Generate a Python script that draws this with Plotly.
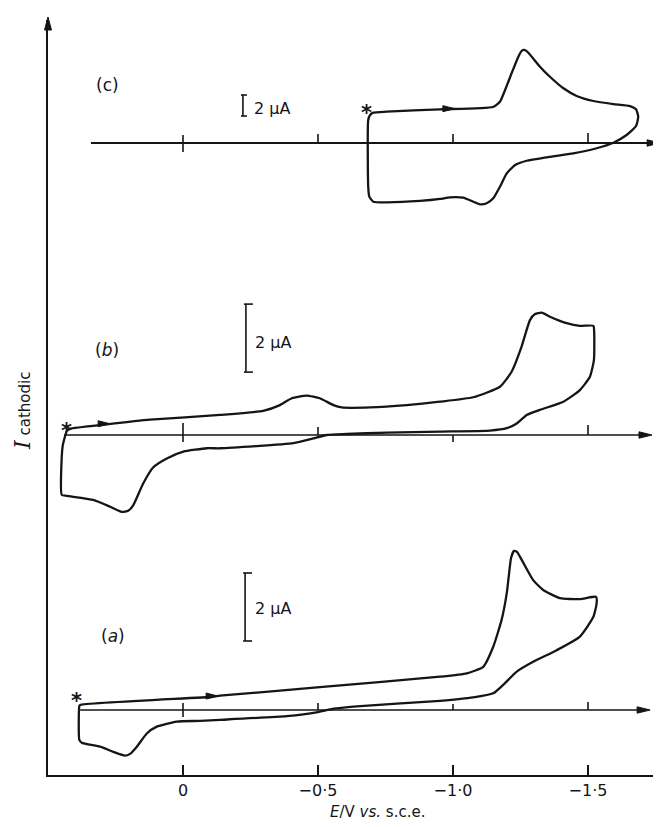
import plotly.graph_objects as go

# ---------------- data (E in V vs s.c.e., I in microamps) ----------------
# panel (c)
c_E = [-0.693, -0.705, -0.754, -0.952, -1.148, -1.174, -1.193, -1.217, -1.242, -1.254,
       -1.263, -1.275, -1.322, -1.359, -1.409, -1.458, -1.520, -1.594, -1.656, -1.678,
       -1.686, -1.678, -1.643, -1.594, -1.532, -1.446, -1.347, -1.273, -1.230, -1.199,
       -1.174, -1.149, -1.125, -1.100, -1.075, -1.038, -0.989, -0.952, -0.878, -0.754,
       -0.705, -0.690, -0.686, -0.686, -0.693]
c_I = [2.67, 2.89, 2.98, 3.21, 3.43, 3.93, 5.05, 6.64, 8.22, 8.76,
       8.86, 8.70, 7.27, 6.31, 5.21, 4.48, 4.00, 3.71, 3.52, 3.21,
       2.50, 1.62, 0.76, 0.03, -0.50, -0.98, -1.36, -1.69, -2.10, -2.89,
       -4.16, -5.27, -5.74, -5.84, -5.59, -5.21, -5.17, -5.33, -5.52, -5.65,
       -5.59, -5.11, -4.16, 2.19, 2.67]

# panel (b)
b_E = [0.430, 0.419, 0.283, 0.122, -0.137, -0.297, -0.359, -0.403, -0.458, -0.507,
       -0.557, -0.588, -0.693, -0.829, -0.952, -1.075, -1.174, -1.217, -1.254, -1.285,
       -1.304, -1.329, -1.359, -1.421, -1.470, -1.520, -1.523, -1.522, -1.507, -1.470,
       -1.409, -1.322, -1.273, -1.236, -1.199, -1.137, -0.952, -0.754, -0.606, -0.532,
       -0.483, -0.409, -0.137, -0.088, -0.001, 0.060, 0.110, 0.147, 0.184, 0.203,
       0.227, 0.270, 0.332, 0.431, 0.449, 0.446, 0.430]
b_I = [0.12, 0.18, 0.31, 0.45, 0.59, 0.71, 0.88, 1.08, 1.16, 1.08,
       0.88, 0.81, 0.81, 0.88, 0.98, 1.11, 1.42, 1.86, 2.60, 3.38,
       3.56, 3.60, 3.48, 3.29, 3.21, 3.21, 2.99, 2.21, 1.71, 1.32,
       0.98, 0.74, 0.59, 0.34, 0.20, 0.13, 0.10, 0.07, 0.03, 0.00,
       -0.10, -0.24, -0.39, -0.39, -0.49, -0.69, -0.95, -1.42, -2.06, -2.23,
       -2.26, -2.11, -1.91, -1.79, -1.76, -0.34, 0.12]

# panel (a)
a_E = [0.381, -0.111, -0.137, -0.507, -0.952, -1.051, -1.112, -1.149, -1.180, -1.199,
       -1.207, -1.215, -1.226, -1.237, -1.259, -1.297, -1.334, -1.396, -1.470, -1.530,
       -1.532, -1.520, -1.470, -1.384, -1.297, -1.236, -1.186, -1.149, -1.075, -0.952,
       -0.631, -0.544, -0.495, -0.384, -0.137, -0.063, 0.023, 0.097, 0.134, 0.171,
       0.196, 0.215, 0.258, 0.307, 0.375, 0.384, 0.384, 0.381]
a_I = [0.15, 0.39, 0.42, 0.67, 0.98, 1.08, 1.27, 1.86, 2.65, 3.43,
       3.97, 4.47, 4.68, 4.65, 4.35, 3.82, 3.53, 3.29, 3.26, 3.33,
       3.14, 2.74, 2.16, 1.76, 1.42, 1.13, 0.74, 0.49, 0.37, 0.27,
       0.10, 0.02, -0.07, -0.18, -0.29, -0.32, -0.34, -0.49, -0.69, -1.08,
       -1.29, -1.34, -1.23, -1.08, -0.96, -0.88, 0.12, 0.15]

tick_E = [0, -0.5, -1.0, -1.5]
tick_text = ["0", "\u22120\u00b75", "\u22121\u00b70", "\u22121\u00b75"]

panel_names = ["(a)", "(b)", "(c)"]
scale_bar_uA = 2.0

# per panel: baseline extent, arrow on sweep, start marker, scale bar, labels (data coords)
base_start = {"a": 0.381, "b": 0.440, "c": 0.341}
base_end = {"a": -1.730, "b": -1.737, "c": -1.767}
sweep_arrow = {"a": (-0.13, 0.41), "b": (0.27, 0.33), "c": (-1.007, 3.27)}
star_pos = {"a": (0.396, 0.37), "b": (0.432, 0.24), "c": (-0.681, 3.24)}
bar_pos = {"a": (-0.230, 2.03), "b": (-0.233, 1.85), "c": (-0.222, 2.57)}
bar_label = {"a": (-0.259, 3.00), "b": (-0.259, 2.71), "c": (-0.256, 3.33)}
name_pos = {"a": (0.260, 2.18), "b": (0.280, 2.50), "c": (0.281, 5.52)}
# baseline tick extents in pixels (down, up)
base_ticks = {
    "a": [(-7, 7), (0, 7), (0, 6), (0, 8)],
    "b": [(-7, 12), (0, 8), (-7, 0), (0, 10)],
    "c": [(-9, 8), (0, 9), (0, 9), (0, 10)],
}

# ---------------- layout geometry (page pixels; body has an 8px margin) ----------------
PAGE_W, PAGE_H = 661, 827
OFF = 8
W, H = PAGE_W - OFF, PAGE_H - OFF
# target page positions of the plotting box
BOX_L, BOX_R, BOX_T, BOX_B = 48, 661, 20, 775
ML, MR, MT, MB = BOX_L - OFF, (W + OFF) - BOX_R, BOX_T - OFF, (H + OFF) - BOX_B
PX_ZERO, PX_PER_V = 183, 270
x_left = (PX_ZERO - BOX_L) / PX_PER_V
x_right = (PX_ZERO - BOX_R) / PX_PER_V
panel_geom = {"a": (710, 34.0, "y"), "b": (435, 34.0, "y2"), "c": (143, 10.5, "y3")}


def yrange(base_px, s):
    return [(base_px - BOX_B) / s, (base_px - BOX_T) / s]


def paper_x(px):
    return (px - BOX_L) / (BOX_R - BOX_L)


def paper_y(py):
    return (BOX_B - py) / (BOX_B - BOX_T)


INK = "#151515"
FONT = "DejaVu Sans"

fig = go.Figure()
series = {"a": (a_E, a_I), "b": (b_E, b_I), "c": (c_E, c_I)}
shapes = []
annotations = []
arrow_path = "M0,0 L-13,3.2 L-13,-3.2 Z"

for key, name in zip(["a", "b", "c"], panel_names):
    base_px, s, yax = panel_geom[key]
    E, I = series[key]
    fig.add_trace(go.Scatter(x=E, y=I, yaxis=yax, mode="lines",
                             line=dict(color=INK, width=2.3, shape="spline", smoothing=0.5),
                             hoverinfo="skip", showlegend=False))
    yref = yax
    # baseline (zero current) with arrow
    shapes.append(dict(type="line", xref="x", yref=yref, x0=base_start[key], x1=base_end[key] + 0.03,
                       y0=0, y1=0, line=dict(color=INK, width=1.8 if key == "c" else 1.4)))
    shapes.append(dict(type="path", xref="x", yref=yref, xsizemode="pixel", ysizemode="pixel",
                       xanchor=base_end[key], yanchor=0, path=arrow_path,
                       fillcolor=INK, line=dict(color=INK, width=1)))
    for tE, (d0, d1) in zip(tick_E, base_ticks[key]):
        shapes.append(dict(type="line", xref="x", yref=yref, ysizemode="pixel", yanchor=0,
                           x0=tE, x1=tE, y0=d0, y1=d1, line=dict(color=INK, width=1.6)))
    # sweep direction arrow
    ax_, ay_ = sweep_arrow[key]
    shapes.append(dict(type="path", xref="x", yref=yref, xsizemode="pixel", ysizemode="pixel",
                       xanchor=ax_, yanchor=ay_, path="M0,0 L-12,3 L-12,-3 Z",
                       fillcolor=INK, line=dict(color=INK, width=1)))
    # scale bar
    bx, by = bar_pos[key]
    shapes.append(dict(type="line", xref="x", yref=yref, x0=bx, x1=bx, y0=by, y1=by + scale_bar_uA,
                       line=dict(color=INK, width=1.6)))
    for yy in (by, by + scale_bar_uA):
        shapes.append(dict(type="line", xref="x", yref=yref, xsizemode="pixel", xanchor=bx,
                           x0=-2, x1=7 if key != "c" else 4, y0=yy, y1=yy,
                           line=dict(color=INK, width=1.6)))
    lx, ly = bar_label[key]
    annotations.append(dict(x=lx, y=ly, xref="x", yref=yref, text="2 \u03bcA", showarrow=False,
                            xanchor="left", yanchor="middle", font=dict(family=FONT, size=16, color=INK)))
    nx, ny = name_pos[key]
    ntext = name if key == "c" else "(<i>%s</i>)" % key
    annotations.append(dict(x=nx, y=ny, xref="x", yref=yref, text=ntext, showarrow=False,
                            xanchor="center", yanchor="middle", font=dict(family=FONT, size=17, color=INK)))
    sx, sy = star_pos[key]
    annotations.append(dict(x=sx, y=sy, xref="x", yref=yref, text="<b>*</b>", showarrow=False,
                            xanchor="center", yanchor="middle", yshift=-4,
                            font=dict(family=FONT, size=21, color=INK)))

# y-axis arrow head at top
shapes.append(dict(type="path", xref="paper", yref="paper", xsizemode="pixel", ysizemode="pixel",
                   xanchor=0, yanchor=1, path="M0,3 L-3.5,-10 L3.5,-10 Z",
                   fillcolor=INK, line=dict(color=INK, width=1)))

# axis titles
annotations.append(dict(x=paper_x(377), y=paper_y(812), xref="paper", yref="paper", showarrow=False,
                        xanchor="center", yanchor="middle",
                        text="<i>E</i>/V <i>vs.</i> s.c.e.",
                        font=dict(family=FONT, size=15, color=INK)))
annotations.append(dict(x=paper_x(22), y=paper_y(411), xref="paper", yref="paper", showarrow=False,
                        xanchor="center", yanchor="middle", textangle=-90,
                        text="<span style='font-family:DejaVu Serif;font-size:22px'><i>I</i></span>"
                             "<span style='font-size:15px'> cathodic</span>",
                        font=dict(family=FONT, size=15, color=INK)))

common_y = dict(showgrid=False, zeroline=False, showticklabels=False, ticks="")
fig.update_layout(
    width=W, height=H, margin=dict(l=ML, r=MR, t=MT, b=MB, pad=0),
    paper_bgcolor="white", plot_bgcolor="white",
    showlegend=False,
    xaxis=dict(range=[x_left, x_right], showgrid=False, zeroline=False,
               showline=True, linecolor=INK, linewidth=1.6,
               ticks="inside", ticklen=10, tickwidth=1.6, tickcolor=INK,
               tickvals=tick_E, ticktext=tick_text,
               tickfont=dict(family=FONT, size=16, color=INK)),
    yaxis=dict(range=yrange(*panel_geom["a"][:2]), showline=True, linecolor=INK, linewidth=1.6,
               **common_y),
    yaxis2=dict(range=yrange(*panel_geom["b"][:2]), overlaying="y", visible=False, **common_y),
    yaxis3=dict(range=yrange(*panel_geom["c"][:2]), overlaying="y", visible=False, **common_y),
    shapes=shapes, annotations=annotations,
)

fig.write_html("out.html")
